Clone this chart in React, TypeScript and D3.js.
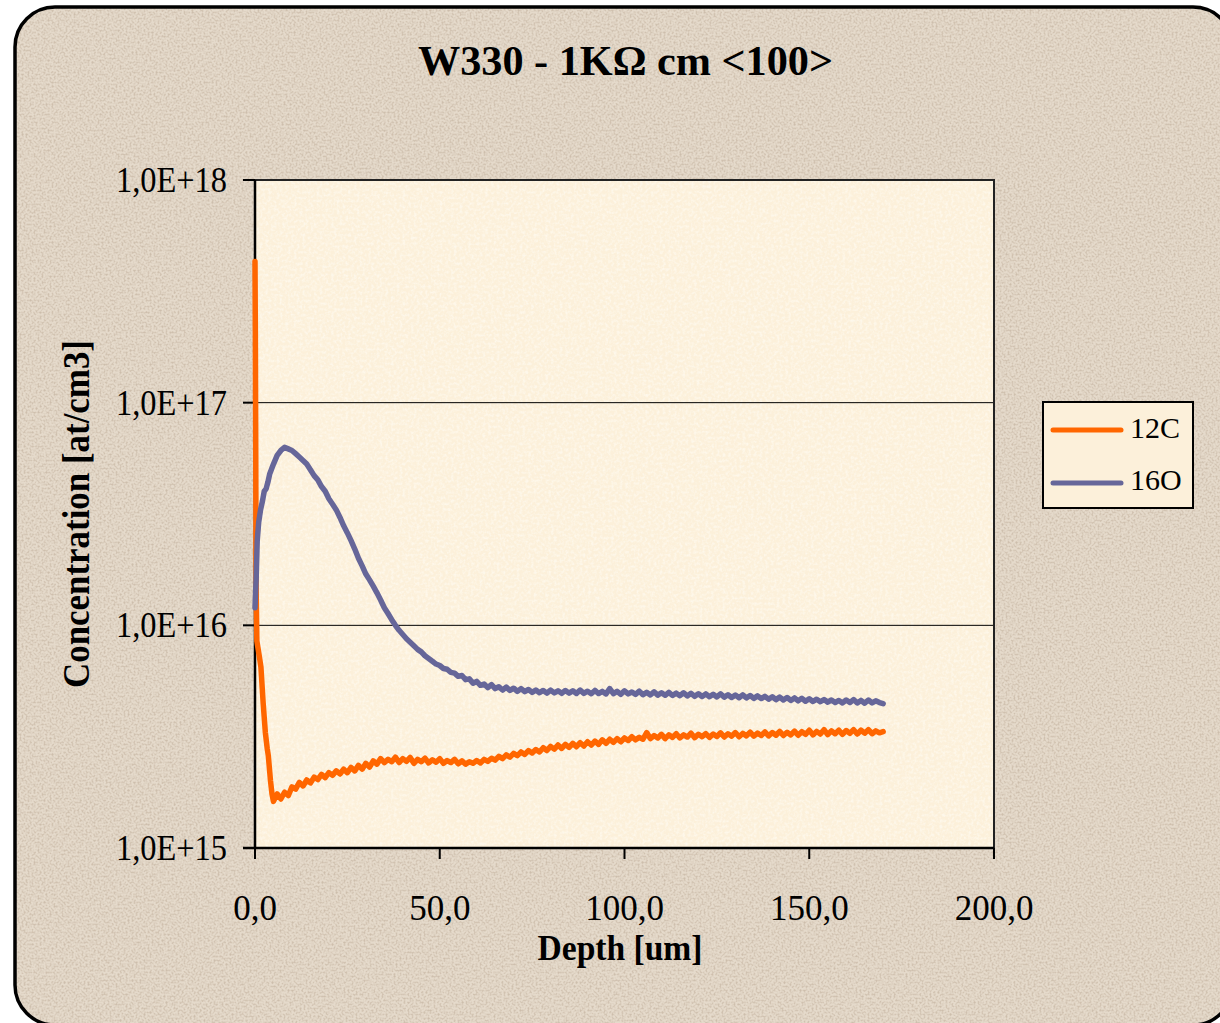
import React from "react";
import * as d3 from "d3";

const title = "W330 - 1KΩ cm <100>";
const xTitle = "Depth [um]";
const yTitle = "Concentration [at/cm3]";
const seriesNames = ["12C", "16O"];
const seriesColors = ["#ff6600", "#666699"];
const xTicks = [0, 50, 100, 150, 200];
const yTicks = [1e15, 1e16, 1e17, 1e18];
const gridValues = [1e16, 1e17];

// [depth um, concentration in 1e15 at/cm3]
const c12: [number, number][] = [
  [0, 430], [0.1, 200], [0.2, 60], [0.3, 15], [0.5, 8.5], [1.2, 7.2], [1.6, 6.5], [2.2, 4.5],
  [2.8, 3.3], [3.3, 2.8], [3.6, 2.6], [4.2, 2.0], [4.6, 1.75],
  [5, 1.62], [6, 1.75], [7, 1.66], [8, 1.78], [9, 1.72], [10, 1.88], [11, 1.84], [12, 1.97],
  [13, 1.9], [14, 2.02], [15, 1.96], [16, 2.08], [17, 2.03], [18, 2.14], [19, 2.07], [20, 2.18],
  [21, 2.12], [22, 2.22], [23, 2.15], [24, 2.26], [25, 2.18], [26, 2.3], [27, 2.22], [28, 2.35],
  [29, 2.26], [30, 2.4], [31, 2.31], [32, 2.46], [33, 2.38], [34, 2.52], [35, 2.42], [36, 2.5],
  [37, 2.44], [38, 2.56], [39, 2.42], [40, 2.52], [41, 2.45], [42, 2.55], [43, 2.4], [44, 2.5],
  [45, 2.44], [46, 2.53], [47, 2.41], [48, 2.49], [49, 2.43], [50, 2.52], [51, 2.4], [52, 2.47],
  [53, 2.42], [54, 2.5], [55, 2.39], [56, 2.46], [57, 2.38], [58, 2.44], [59, 2.4], [60, 2.47],
  [61, 2.41], [62, 2.5], [63, 2.45], [64, 2.53], [65, 2.48], [66, 2.58], [67, 2.52], [68, 2.62],
  [69, 2.56], [70, 2.66], [71, 2.6], [72, 2.7], [73, 2.63], [74, 2.74], [75, 2.67], [76, 2.77],
  [77, 2.7], [78, 2.82], [79, 2.74], [80, 2.86], [81, 2.78], [82, 2.9], [83, 2.8], [84, 2.92],
  [85, 2.83], [86, 2.95], [87, 2.85], [88, 2.97], [89, 2.87], [90, 3.0], [91, 2.9], [92, 3.02],
  [93, 2.92], [94, 3.06], [95, 2.95], [96, 3.08], [97, 2.98], [98, 3.1], [99, 3.0], [100, 3.12],
  [101, 3.04], [102, 3.16], [103, 3.06], [104, 3.14], [105, 3.08], [106, 3.3], [107, 3.1], [108, 3.2],
  [109, 3.12], [110, 3.24], [111, 3.1], [112, 3.22], [113, 3.14], [114, 3.26], [115, 3.12], [116, 3.22],
  [117, 3.15], [118, 3.28], [119, 3.13], [120, 3.24], [121, 3.16], [122, 3.26], [123, 3.14], [124, 3.25],
  [125, 3.17], [126, 3.29], [127, 3.15], [128, 3.26], [129, 3.18], [130, 3.3], [131, 3.16], [132, 3.27],
  [133, 3.19], [134, 3.31], [135, 3.18], [136, 3.28], [137, 3.2], [138, 3.32], [139, 3.19], [140, 3.3],
  [141, 3.21], [142, 3.34], [143, 3.2], [144, 3.31], [145, 3.22], [146, 3.35], [147, 3.21], [148, 3.33],
  [149, 3.24], [150, 3.38], [151, 3.22], [152, 3.34], [153, 3.25], [154, 3.4], [155, 3.23], [156, 3.36],
  [157, 3.26], [158, 3.38], [159, 3.24], [160, 3.37], [161, 3.27], [162, 3.4], [163, 3.25], [164, 3.38],
  [165, 3.28], [166, 3.4], [167, 3.26], [168, 3.36], [169, 3.29], [170, 3.33],
];

const o16: [number, number][] = [
  [0, 12], [0.3, 16], [0.6, 24], [1.0, 29], [1.5, 33], [2.0, 36], [2.5, 40], [3.0, 41],
  [3.5, 44], [4.0, 48], [5, 53], [6, 58], [7, 61], [8, 63], [9, 62], [10, 61], [11, 59],
  [12, 57], [13, 55], [14, 53], [15, 50], [16, 47], [17, 45], [18, 42], [19, 40], [20, 37],
  [21, 35], [22, 33], [23, 30.5], [24, 28], [25, 26], [26, 24], [27, 22], [28, 20], [29, 18.5],
  [30, 17], [31, 16], [32, 15], [33, 14], [34, 13], [35, 12], [36, 11.3], [37, 10.6], [38, 10],
  [39, 9.5], [40, 9.1], [41, 8.7], [42, 8.4], [43, 8.1], [44, 7.8], [45, 7.6], [46, 7.3],
  [47, 7.1], [48, 6.9], [49, 6.7],
  [50, 6.6], [51, 6.4], [52, 6.35], [53, 6.15], [54, 6.1], [55, 5.9], [56, 5.95], [57, 5.7],
  [58, 5.75], [59, 5.5], [60, 5.6], [61, 5.38], [62, 5.45], [63, 5.25], [64, 5.42], [65, 5.2],
  [66, 5.3], [67, 5.12], [68, 5.28], [69, 5.1], [70, 5.22], [71, 5.05], [72, 5.2], [73, 5.04],
  [74, 5.15], [75, 5.0], [76, 5.12], [77, 4.98], [78, 5.1], [79, 4.96], [80, 5.12], [81, 4.97],
  [82, 5.08], [83, 4.95], [84, 5.1], [85, 4.96], [86, 5.08], [87, 4.94], [88, 5.12], [89, 4.95],
  [90, 5.06], [91, 4.93], [92, 5.1], [93, 4.94], [94, 5.05], [95, 4.92], [96, 5.2], [97, 4.93],
  [98, 5.05], [99, 4.9], [100, 5.08], [101, 4.92], [102, 5.02], [103, 4.9], [104, 5.06], [105, 4.88],
  [106, 5.0], [107, 4.87], [108, 5.03], [109, 4.86], [110, 4.98], [111, 4.85], [112, 5.0], [113, 4.84],
  [114, 4.96], [115, 4.83], [116, 4.98], [117, 4.82], [118, 4.95], [119, 4.8], [120, 4.93], [121, 4.79],
  [122, 4.92], [123, 4.78], [124, 4.9], [125, 4.77], [126, 4.92], [127, 4.76], [128, 4.88], [129, 4.74],
  [130, 4.86], [131, 4.73], [132, 4.87], [133, 4.72], [134, 4.84], [135, 4.7], [136, 4.82], [137, 4.69],
  [138, 4.8], [139, 4.66], [140, 4.78], [141, 4.64], [142, 4.76], [143, 4.62], [144, 4.74], [145, 4.6],
  [146, 4.72], [147, 4.58], [148, 4.7], [149, 4.56], [150, 4.68], [151, 4.55], [152, 4.66], [153, 4.54],
  [154, 4.64], [155, 4.52], [156, 4.62], [157, 4.5], [158, 4.6], [159, 4.48], [160, 4.62], [161, 4.5],
  [162, 4.64], [163, 4.48], [164, 4.6], [165, 4.47], [166, 4.62], [167, 4.48], [168, 4.58], [169, 4.5],
  [170, 4.45],
];

const W = 1220;
const H = 1023;
const plot = { left: 255, right: 994, top: 180, bottom: 848 };
const serif = "'Liberation Serif', 'Times New Roman', serif";

function fmtY(v: number) {
  const e = Math.round(Math.log10(v));
  return `1,0E+${e}`;
}
function fmtX(v: number) {
  return v.toFixed(1).replace(".", ",");
}

export default function App() {
  const x = d3.scaleLinear().domain([0, 200]).range([plot.left, plot.right]);
  const y = d3.scaleLog().domain([1e15, 1e18]).range([plot.bottom, plot.top]);
  const line = d3
    .line<[number, number]>()
    .x((d) => x(d[0]))
    .y((d) => y(d[1] * 1e15));
  const series = [c12, o16];

  return (
    <svg
      width={W}
      height={H}
      style={{ position: "absolute", left: 0, top: 0, background: "#ffffff" }}
    >
      <defs>
        <filter id="grain" x="0" y="0" width="100%" height="100%">
          <feTurbulence type="fractalNoise" baseFrequency="0.5" numOctaves="2" seed="3" />
          <feColorMatrix
            type="matrix"
            values="0 0 0 0 0.55  0 0 0 0 0.45  0 0 0 0 0.35  0 0 0 -2.6 1.55"
          />
        </filter>
        <filter id="grain2" x="0" y="0" width="100%" height="100%">
          <feTurbulence type="fractalNoise" baseFrequency="0.35" numOctaves="2" seed="7" />
          <feColorMatrix
            type="matrix"
            values="0 0 0 0 1  0 0 0 0 0.98  0 0 0 0 0.92  0 0 0 -2.4 1.45"
          />
        </filter>
        <clipPath id="frameClip">
          <rect x={15} y={7} width={1218} height={1018} rx={40} ry={40} />
        </clipPath>
      </defs>

      {/* outer frame */}
      <rect x={15} y={7} width={1218} height={1018} rx={40} ry={40} fill="#e5dacb" />
      <g clipPath="url(#frameClip)">
        <rect x={15} y={7} width={1218} height={1018} filter="url(#grain)" opacity={0.7} />
      </g>
      <rect x={15} y={7} width={1218} height={1018} rx={40} ry={40} fill="none" stroke="#000" strokeWidth={3.5} />

      {/* title */}
      <text
        x={418}
        y={75}
        fontFamily={serif}
        fontWeight="bold"
        fontSize={43}
        textLength={415}
        lengthAdjust="spacingAndGlyphs"
      >
        {title}
      </text>

      {/* plot area */}
      <rect
        x={plot.left}
        y={plot.top}
        width={plot.right - plot.left}
        height={plot.bottom - plot.top}
        fill="#fcf0da"
      />
      <rect
        x={plot.left}
        y={plot.top}
        width={plot.right - plot.left}
        height={plot.bottom - plot.top}
        filter="url(#grain2)"
        opacity={0.6}
      />

      {/* gridlines */}
      {gridValues.map((g) => (
        <line key={g} x1={plot.left} x2={plot.right} y1={y(g)} y2={y(g)} stroke="#000" strokeWidth={1} />
      ))}

      {/* plot border */}
      <rect
        x={plot.left}
        y={plot.top}
        width={plot.right - plot.left}
        height={plot.bottom - plot.top}
        fill="none"
        stroke="#222"
        strokeWidth={2}
      />

      {/* axes ticks */}
      {yTicks.map((t) => (
        <g key={t}>
          <line x1={plot.left - 12} x2={plot.left} y1={y(t)} y2={y(t)} stroke="#000" strokeWidth={2} />
          <text
            x={227}
            y={y(t) + 12}
            textAnchor="end"
            fontFamily={serif}
            fontSize={35}
            textLength={111}
            lengthAdjust="spacingAndGlyphs"
          >
            {fmtY(t)}
          </text>
        </g>
      ))}
      {xTicks.map((t) => (
        <g key={t}>
          <line x1={x(t)} x2={x(t)} y1={plot.bottom} y2={plot.bottom + 11} stroke="#000" strokeWidth={2} />
          <text
            x={x(t)}
            y={920}
            textAnchor="middle"
            fontFamily={serif}
            fontSize={35}
          >
            {fmtX(t)}
          </text>
        </g>
      ))}
      <line x1={plot.left} x2={plot.left} y1={plot.top} y2={plot.bottom} stroke="#000" strokeWidth={2.5} />
      <line x1={plot.left - 12} x2={plot.right} y1={plot.bottom} y2={plot.bottom} stroke="#000" strokeWidth={2.5} />

      {/* data */}
      {series.map((s, i) => (
        <path
          key={i}
          d={line(s) || ""}
          fill="none"
          stroke={seriesColors[i]}
          strokeWidth={5.5}
          strokeLinejoin="round"
          strokeLinecap="round"
        />
      ))}

      {/* axis titles */}
      <text
        x={620}
        y={960}
        textAnchor="middle"
        fontFamily={serif}
        fontWeight="bold"
        fontSize={36}
        textLength={165}
        lengthAdjust="spacingAndGlyphs"
      >
        {xTitle}
      </text>
      <text
        transform="translate(89,514) rotate(-90)"
        textAnchor="middle"
        fontFamily={serif}
        fontWeight="bold"
        fontSize={38}
        textLength={348}
        lengthAdjust="spacingAndGlyphs"
      >
        {yTitle}
      </text>

      {/* legend */}
      <rect x={1043} y={402} width={150} height={106} fill="#fcf0da" stroke="#000" strokeWidth={2} />
      {seriesNames.map((n, i) => (
        <g key={n}>
          <line
            x1={1053}
            x2={1121}
            y1={430 + i * 53}
            y2={430 + i * 53}
            stroke={seriesColors[i]}
            strokeWidth={5}
            strokeLinecap="round"
          />
          <text x={1130} y={438 + i * 52} fontFamily={serif} fontSize={30}>
            {n}
          </text>
        </g>
      ))}
    </svg>
  );
}
